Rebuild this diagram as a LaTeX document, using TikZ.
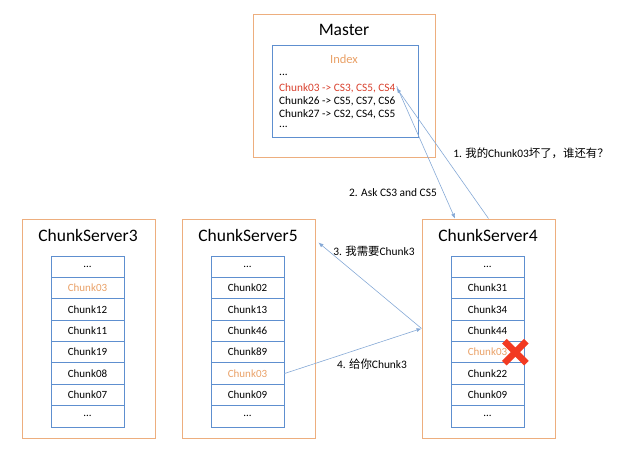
\documentclass[tikz,border=0pt]{standalone}
\usepackage{fontspec}
\setmainfont{Carlito}
\newfontfamily\cjk{Noto Sans CJK SC}
\usepackage{tikz}
\usetikzlibrary{positioning,calc,arrows.meta}

\definecolor{boxorange}{HTML}{EDAE7E}
\definecolor{cellblue}{HTML}{5E8FCF}
\definecolor{linkblue}{HTML}{86A9D6}
\definecolor{hotred}{HTML}{D9412E}
\definecolor{xred}{HTML}{F23A22}
\definecolor{chunkorange}{HTML}{E9A066}

\newcommand{\etcdots}{...}
\newcommand{\hl}[1]{\textcolor{chunkorange}{#1}}

\tikzset{
    server/.style={draw=boxorange, line width=0.9pt, minimum width=133pt, minimum height=219pt},
    title/.style={font=\fontsize{17.5}{20}\selectfont},
    cell/.style={draw=cellblue, line width=0.8pt, minimum width=73pt, minimum height=21.4pt, inner sep=0pt, font=\fontsize{11}{12}\selectfont},
    idxline/.style={anchor=west, inner sep=1pt, font=\fontsize{11.3}{13}\selectfont},
    msg/.style={font=\fontsize{11.4}{13}\selectfont},
    link/.style={draw=linkblue, line width=0.6pt, -{Latex[length=5pt,width=4pt]}}
}

\begin{document}
\begin{tikzpicture}[x=1pt, y=-1pt]
    \useasboundingbox (0,0) rectangle (640,454);

    % master
    \node [server, minimum width=182pt, minimum height=143pt] (master) at (344,85.5) {};
    \node [title] (mtitle) at (344,30) {Master};
    \node [draw=cellblue, line width=0.8pt, minimum width=146pt, minimum height=92pt] (index) at (345,91) {};
    \node [msg, text=chunkorange, font=\fontsize{12.5}{14}\selectfont] (ilabel) at (344,59) {Index};
    \node [idxline] (i0) at (278,75) {\etcdots};
    \node [idxline, text=hotred] (i1) at (278,88) {Chunk03 -> CS3, CS5, CS4};
    \node [idxline] (i2) at (278,101) {Chunk26 -> CS5, CS7, CS6};
    \node [idxline] (i3) at (278,114) {Chunk27 -> CS2, CS4, CS5};
    \node [idxline] (i4) at (278,127) {\etcdots};

    % chunk servers
    \node [server] (cs3) at (88.5,328.5) {};
    \node [server] (cs5) at (248.5,328.5) {};
    \node [server] (cs4) at (488.5,328.5) {};
    \node [title] (t3) at (88,235) {ChunkServer3};
    \node [title] (t5) at (248,235) {ChunkServer5};
    \node [title] (t4) at (488,235) {ChunkServer4};

    \foreach \s/\x/\list in {3/87.5/{\etcdots,\hl{Chunk03},Chunk12,Chunk11,Chunk19,Chunk08,Chunk07,\etcdots},
                            5/247.5/{\etcdots,Chunk02,Chunk13,Chunk46,Chunk89,\hl{Chunk03},Chunk09,\etcdots},
                            4/487.5/{\etcdots,Chunk31,Chunk34,Chunk44,\hl{Chunk03},Chunk22,Chunk09,\etcdots}} {
        \foreach \c [count=\i] in \list {
            \node [cell] (c\s-\i) at (\x,{256+21.375*(\i-0.5)}) {\c};
        }
    }

    % messages
    \draw [link] (cs4.north) -- (i1.east);
    \draw [link] ([yshift=2pt]i1.east) -- ($(cs4.north west)!0.25!(cs4.north east)$);
    \coordinate (cs5in) at ($(cs5.north east)+(3,24)$);
    \draw [link] (cs4.west) -- (cs5in);
    \draw [link] (c5-6.east) -- (cs4.west);

    \node [msg] (m1) at (531,153) {1. {\cjk 我的}Chunk03{\cjk 坏了，谁还有？}};
    \node [msg] (m2) at (393,193) {2. Ask CS3 and CS5};
    \node [msg] (m3) at (374,251) {3. {\cjk 我需要}Chunk3};
    \node [msg] (m4) at (372,364) {4. {\cjk 给你}Chunk3};

    % broken chunk
    \coordinate (bad) at ($(c4-5.east)+(-9,0)$);
    \draw [xred, line width=6.5pt] ($(bad)+(-11,-11)$) -- ($(bad)+(11,11)$)
                                   ($(bad)+(-11,11)$) -- ($(bad)+(11,-11)$);
\end{tikzpicture}
\end{document}
